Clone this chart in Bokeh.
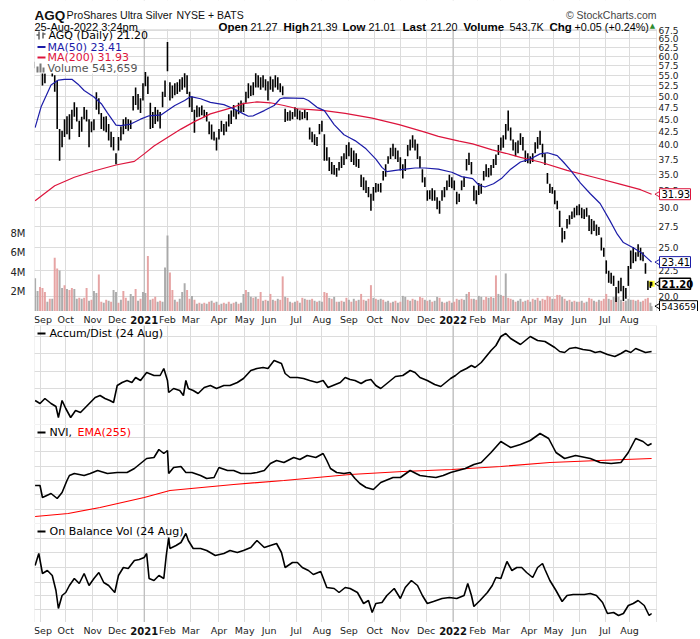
import pandas as pd
from bokeh.plotting import figure
from bokeh.layouts import column
from bokeh.models import (Range1d, LinearAxis, LinearScale, FixedTicker, Label, BoxAnnotation,
                          Span, Grid, CustomJSTickFormatter)
from bokeh.core.properties import value
from bokeh.embed import file_html
from bokeh.resources import INLINE

# ---------------- calendar / axis labels ----------------
holidays = ["2020-09-07", "2020-11-26", "2020-12-25", "2021-01-01", "2021-01-18", "2021-02-15",
            "2021-04-02", "2021-05-31", "2021-07-05", "2021-09-06", "2021-11-25", "2021-12-24",
            "2022-01-17", "2022-02-21", "2022-04-15", "2022-05-30", "2022-06-20", "2022-07-04"]
month_labels = ["Sep", "Oct", "Nov", "Dec", "2021", "Feb", "Mar", "Apr", "May", "Jun", "Jul", "Aug",
                "Sep", "Oct", "Nov", "Dec", "2022", "Feb", "Mar", "Apr", "May", "Jun", "Jul", "Aug"]
price_ticks = [20.0, 22.5, 25.0, 27.5, 30.0, 32.5, 35.0, 37.5, 40.0, 42.5, 45.0, 47.5,
               50.0, 52.5, 55.0, 57.5, 60.0, 62.5, 65.0, 67.5]
vol_ticks = [2e6, 4e6, 6e6, 8e6]

# ---------------- price bars (every 2nd session + last session) ----------------
bar_days = list(range(0, 504, 2)) + [503]
bar_hi = [58.5, 59.5, 58.8, 55.8, 55.5, 58.0, 59.0, 56.5, 55.0, 53.7,
          43.0, 42.7, 45.0, 45.6, 46.0, 47.0, 48.6, 47.5, 44.7, 45.5,
          47.6, 47.0, 45.0, 44.5, 45.0, 50.9, 49.5, 46.3, 45.5, 45.6,
          44.0, 42.5, 41.5, 38.5, 41.5, 43.5, 45.0, 45.4, 45.0, 44.8,
          50.0, 52.0, 50.5, 49.5, 53.0, 55.8, 54.7, 48.5, 46.5, 47.6,
          47.0, 46.5, 51.0, 53.7, 64.0, 53.3, 52.5, 53.0, 53.3, 54.0,
          54.5, 55.5, 55.0, 51.0, 49.9, 47.0, 47.9, 47.5, 47.9, 47.0,
          46.5, 44.5, 43.9, 42.5, 41.4, 43.0, 44.7, 44.0, 44.5, 46.0,
          46.8, 48.0, 47.0, 48.5, 49.0, 48.5, 51.0, 53.0, 52.5, 53.3,
          55.5, 55.0, 54.5, 55.0, 54.0, 53.5, 54.7, 54.0, 55.0, 54.5,
          53.0, 52.3, 47.2, 46.5, 46.8, 46.5, 47.5, 47.2, 46.8, 46.5,
          47.0, 46.5, 43.3, 42.5, 42.0, 41.5, 44.0, 44.7, 42.0, 39.6,
          37.8, 37.0, 36.5, 36.0, 37.0, 38.0, 38.5, 40.0, 40.5, 39.5,
          39.0, 38.5, 37.5, 34.9, 34.5, 34.0, 33.0, 32.0, 33.0, 33.6,
          33.5, 33.6, 35.5, 36.6, 38.0, 39.5, 40.2, 39.5, 39.0, 37.8,
          36.6, 37.5, 40.0, 41.0, 41.8, 41.0, 40.2, 38.0, 35.8, 34.5,
          32.5, 32.5, 32.8, 32.5, 31.5, 31.0, 32.5, 33.0, 34.0, 34.9,
          34.5, 34.0, 32.3, 32.0, 34.0, 34.6, 37.5, 38.6, 37.0, 33.2,
          32.5, 33.6, 33.5, 35.5, 36.6, 36.0, 36.5, 37.5, 38.3, 40.0,
          41.4, 41.8, 44.0, 46.8, 43.3, 41.0, 40.5, 40.8, 42.2, 41.5,
          39.0, 38.5, 38.0, 38.5, 40.5, 41.5, 42.7, 40.2, 38.5, 35.2,
          33.5, 33.0, 32.5, 31.0, 29.6, 27.4, 27.0, 28.5, 29.0, 29.5,
          30.0, 30.3, 30.5, 30.0, 29.8, 30.0, 29.0, 28.5, 28.3, 27.8,
          27.5, 26.2, 25.0, 23.6, 22.5, 22.3, 22.0, 20.9, 21.5, 21.8,
          21.0, 20.8, 23.0, 24.7, 25.1, 24.5, 25.4, 25.0, 24.5, 23.3,
          21.5, 21.4, 21.39]
bar_lo = [56.8, 57.0, 56.6, 52.5, 53.0, 56.3, 56.5, 54.7, 51.0, 43.0,
          37.2, 39.6, 41.5, 42.0, 41.0, 43.0, 45.5, 44.5, 41.5, 42.5,
          45.0, 44.5, 39.6, 42.4, 42.8, 47.0, 46.0, 43.0, 42.7, 42.4,
          40.8, 39.6, 39.0, 36.6, 39.0, 40.8, 42.0, 43.0, 42.7, 43.0,
          46.8, 48.0, 47.0, 46.3, 49.0, 52.3, 50.5, 43.0, 43.2, 44.0,
          44.5, 43.1, 47.5, 49.8, 56.0, 49.0, 49.5, 50.2, 50.5, 51.0,
          51.5, 52.0, 50.5, 47.5, 46.5, 42.3, 45.4, 45.5, 45.8, 45.4,
          44.5, 42.0, 41.0, 40.8, 39.0, 41.0, 42.5, 41.8, 42.5, 43.5,
          44.0, 45.5, 45.0, 46.0, 46.5, 46.5, 48.5, 49.5, 50.0, 50.2,
          52.0, 52.0, 51.5, 52.0, 51.3, 49.0, 51.5, 51.0, 52.0, 51.5,
          50.9, 50.2, 44.4, 44.7, 44.7, 45.0, 45.5, 45.0, 44.8, 45.0,
          45.2, 44.8, 41.0, 40.5, 40.0, 39.8, 42.0, 42.5, 37.2, 37.2,
          35.5, 35.0, 34.9, 34.6, 35.6, 36.0, 36.5, 37.5, 38.0, 37.0,
          36.5, 36.2, 36.0, 33.0, 32.5, 32.1, 31.5, 29.6, 31.0, 32.2,
          32.3, 32.2, 34.0, 34.6, 36.7, 37.5, 38.0, 37.5, 37.0, 35.6,
          34.3, 35.5, 38.0, 39.0, 39.5, 39.0, 37.5, 36.0, 33.7, 33.0,
          31.0, 31.2, 31.0, 31.0, 29.8, 29.2, 31.0, 31.5, 32.5, 33.0,
          32.8, 32.5, 30.5, 30.8, 32.5, 33.0, 35.6, 36.5, 35.0, 31.0,
          30.5, 31.8, 32.0, 34.0, 34.6, 34.5, 34.8, 36.0, 36.5, 38.2,
          39.0, 39.5, 41.0, 42.7, 40.8, 39.0, 38.0, 38.5, 40.0, 39.0,
          37.0, 36.8, 36.7, 37.0, 38.5, 39.3, 40.0, 37.8, 36.5, 33.5,
          32.1, 32.0, 30.5, 29.8, 27.5, 25.6, 26.0, 27.3, 27.8, 28.5,
          28.7, 29.0, 29.0, 28.6, 28.5, 28.8, 27.0, 26.6, 27.0, 26.4,
          26.5, 24.7, 24.0, 22.2, 21.3, 21.2, 21.0, 19.5, 20.3, 20.5,
          19.6, 19.8, 21.0, 22.7, 23.3, 23.5, 24.0, 23.6, 23.5, 22.2,
          20.6, 20.8, 21.01]
last_day = 503
last_close = 21.20

# ---------------- volume (millions, same sessions as the bars) ----------------
vol_m = [3.4, 2.1, 2.5, 2.4, 2.0, 1.0, 1.3, 1.3, 5.5, 4.4,
         4.2, 2.4, 2.7, 2.3, 2.2, 2.4, 2.3, 1.3, 1.4, 1.3,
         1.4, 2.4, 1.1, 1.2, 2.1, 1.9, 3.8, 1.0, 0.9, 1.2,
         1.1, 1.0, 2.2, 2.0, 0.9, 1.2, 2.1, 1.4, 1.1, 1.8,
         1.6, 2.3, 1.1, 1.3, 2.0, 1.9, 5.7, 1.2, 1.3, 1.5,
         1.0, 1.1, 1.0, 4.5, 7.8, 4.0, 2.2, 1.2, 1.0, 1.3,
         2.0, 2.9, 2.2, 1.3, 1.6, 1.2, 0.8, 0.9, 0.8, 0.9,
         0.8, 1.0, 1.1, 0.9, 1.0, 0.7, 0.8, 0.9, 0.8, 1.0,
         0.8, 0.9, 1.0, 0.8, 0.9, 1.8, 2.2, 2.0, 1.5, 1.4,
         1.5, 1.3, 2.0, 1.1, 1.2, 1.1, 1.8, 1.2, 1.1, 1.3,
         1.2, 3.6, 1.5, 1.4, 1.0, 0.9, 1.0, 1.1, 0.9, 1.4,
         1.3, 1.2, 1.2, 1.3, 1.1, 1.0, 1.1, 1.0, 2.0, 1.9,
         1.4, 1.3, 1.5, 1.0, 1.0, 1.1, 1.0, 1.4, 1.2, 1.0,
         1.3, 1.1, 1.2, 1.8, 1.2, 1.1, 1.3, 2.7, 1.4, 1.3,
         1.2, 1.3, 1.2, 1.0, 1.1, 0.9, 1.0, 1.1, 0.9, 1.0,
         1.6, 1.5, 1.2, 1.1, 1.3, 1.2, 1.1, 1.5, 1.4, 1.2,
         1.1, 1.2, 1.0, 1.1, 1.5, 1.4, 1.0, 0.9, 1.0, 1.1,
         0.9, 1.0, 1.3, 1.2, 1.3, 1.2, 1.8, 2.0, 1.3, 1.3,
         1.2, 1.6, 1.5, 1.2, 1.5, 1.4, 1.5, 1.4, 3.7, 1.8,
         1.7, 1.6, 3.9, 1.4, 1.3, 1.2, 1.0, 1.1, 1.3, 1.0,
         1.1, 1.2, 1.0, 1.3, 1.2, 1.4, 1.1, 1.3, 1.2, 1.6,
         1.5, 1.3, 1.3, 1.7, 1.7, 1.5, 1.3, 1.1, 1.2, 1.0,
         1.1, 1.0, 1.0, 1.1, 0.9, 1.0, 1.4, 1.3, 1.1, 1.0,
         1.2, 1.1, 1.3, 1.8, 1.3, 1.2, 1.5, 1.4, 1.5, 1.2,
         1.0, 1.1, 1.3, 1.2, 1.2, 1.1, 1.2, 1.0, 1.1, 1.3,
         1.4, 0.9, 0.543659]
vol_dir = ("ggpppgpgpp" "ggpgppggpg" "ppgpggppgp" "gpggpgppgg" "gpgpggpgpp"
           "gpgggppgpg" "ggppgpgpgp" "gpgpgpgpgp" "gpgpggpggp" "gppgpgpgpg"
           "ppgpgpgpgp" "gpgpgpggpp" "gpgpgpgpgp" "gpgppgppgp" "ggpggpgpgp"
           "ggpgpgpppg" "pgpggpgpgp" "gppgpggppg" "pggppgpgpg" "gpgppgpggp"
           "gpgpgpgppp" "pgpppgpgpg" "pgpgpgppgp" "gpppgpgpgg" "pgggpgpgpp" "pg" "g")
last_volume = 543659

# ---------------- moving averages ----------------
ma50_days = [0, 5, 13, 19, 24, 30, 35, 40, 48, 54, 59, 66, 70, 78, 86, 93, 103, 108, 114, 122,
             127, 135, 143, 154, 162, 170, 174, 178, 187, 195, 200, 203, 219, 223, 230, 236, 244,
             252, 257, 261, 270, 278, 283, 287, 294, 302, 310, 318, 329, 340, 348, 357, 362, 367,
             374, 381, 384, 388, 396, 404, 412, 418, 426, 431, 437, 445, 453, 461, 469, 475, 480,
             488, 494, 499, 503]
ma50_vals = [43.3, 47.7, 52.6, 53.8, 54.0, 54.0, 52.8, 51.3, 49.8, 48.3, 46.3, 43.8, 43.7, 44.0,
             45.0, 45.7, 45.9, 46.8, 47.9, 49.0, 49.9, 49.4, 48.6, 48.1, 47.2, 46.1, 45.6, 45.7,
             46.8, 47.9, 49.4, 49.6, 49.5, 49.0, 47.5, 46.8, 43.9, 41.9, 41.3, 40.8, 39.3, 37.5,
             36.1, 35.4, 35.6, 35.8, 36.0, 36.0, 35.8, 35.3, 34.6, 34.3, 33.3, 33.0, 33.5, 34.4,
             35.0, 35.8, 37.0, 37.5, 38.4, 38.6, 38.1, 37.0, 35.6, 33.6, 32.0, 30.6, 28.3, 26.6,
             25.6, 25.0, 24.5, 23.9, 23.41]
ma200_days = [0, 16, 32, 48, 66, 81, 89, 97, 108, 119, 130, 143, 160, 170, 181, 192, 203, 214,
              225, 236, 253, 275, 297, 318, 329, 346, 357, 373, 384, 396, 412, 434, 456, 478,
              494, 503]
ma200_vals = [31.0, 33.2, 34.5, 35.5, 36.5, 37.1, 38.4, 39.8, 41.4, 43.0, 44.5, 46.1, 47.4, 48.3,
              48.7, 48.5, 47.9, 47.2, 47.0, 46.8, 46.2, 45.2, 43.9, 42.4, 41.6, 40.7, 40.2, 39.1,
              38.5, 37.8, 37.0, 35.6, 34.5, 33.4, 32.6, 31.93]
ma50_last = 23.41
ma200_last = 31.93

# ---------------- indicator panels (relative panel units) ----------------
ad_days = [0, 4, 8, 13, 17, 19, 22, 25, 29, 33, 37, 41, 45, 49, 53, 57, 61, 64, 67, 71,
           75, 79, 82, 86, 91, 97, 102, 105, 108, 109, 113, 118, 121, 123, 125, 129, 133, 138, 143, 148,
           154, 159, 165, 170, 176, 181, 186, 190, 195, 199, 201, 204, 208, 214, 219, 224, 230, 235, 239, 243,
           249, 253, 257, 261, 266, 270, 274, 278, 282, 288, 294, 300, 306, 310, 314, 320, 326, 331, 336, 339,
           343, 347, 352, 356, 359, 364, 368, 372, 376, 380, 384, 388, 392, 396, 400, 404, 410, 416, 420, 424,
           428, 432, 436, 441, 447, 453, 457, 461, 467, 473, 478, 482, 486, 490, 494, 498, 503]
ad_vals = [24, 21, 26, 21, 18, 7, 24, 16, 7, 14, 12, 17, 22, 27, 29, 26, 24, 22, 39, 42,
           44, 42, 47, 44, 52, 49, 49, 56, 44, 32, 36, 34, 29, 44, 36, 34, 31, 37, 39, 36,
           39, 39, 42, 46, 54, 56, 57, 56, 64, 62, 61, 51, 47, 47, 46, 44, 42, 44, 37, 39,
           42, 47, 45, 44, 41, 44, 45, 39, 36, 42, 48, 49, 54, 52, 47, 44, 40, 38, 43, 46,
           49, 53, 56, 59, 57, 62, 68, 74, 79, 88, 91, 86, 83, 80, 84, 88, 84, 83, 80, 77,
           73, 72, 76, 77, 75, 74, 72, 73, 70, 68, 71, 74, 72, 76, 74, 72, 73]
nvi_days = [0, 4, 6, 13, 18, 22, 26, 28, 32, 40, 45, 51, 59, 67, 75, 81, 86, 91, 97, 101,
            105, 108, 109, 113, 119, 123, 128, 135, 140, 146, 150, 157, 162, 168, 176, 181, 187, 192, 197, 203,
            211, 216, 222, 229, 235, 238, 241, 246, 252, 257, 261, 265, 270, 276, 282, 286, 292, 298, 306, 314,
            320, 327, 333, 339, 345, 351, 358, 364, 372, 380, 388, 396, 404, 412, 419, 425, 432, 441, 453, 461,
            470, 478, 484, 490, 496, 500, 503]
nvi_vals = [38, 38, 26, 30, 25, 31, 43, 48, 50, 48, 50, 53, 50, 51, 51, 55, 60, 65, 66, 74,
            70, 73, 50, 56, 57, 51, 51, 48, 45, 46, 56, 53, 53, 50, 50, 51, 53, 60, 63, 61,
            66, 64, 68, 66, 70, 63, 55, 51, 50, 51, 45, 40, 36, 34, 41, 43, 46, 46, 53, 48,
            47, 46, 48, 51, 53, 55, 59, 61, 71, 82, 76, 79, 83, 90, 85, 71, 65, 68, 65, 61,
            60, 61, 71, 85, 82, 78, 80]
ema_days = [0, 27, 53, 89, 110, 162, 203, 257, 300, 340, 380, 420, 460, 503]
ema_vals = [7, 10, 16, 26, 33, 39, 43, 49, 52, 54, 57, 61, 63, 65]
obv_days = [0, 3, 6, 10, 14, 17, 19, 22, 25, 28, 32, 36, 40, 44, 48, 52, 56, 60, 65, 68,
            72, 76, 81, 85, 89, 91, 93, 97, 101, 105, 107, 109, 110, 115, 119, 123, 125, 129, 135, 140,
            147, 154, 159, 165, 170, 176, 181, 187, 192, 197, 201, 204, 210, 214, 218, 223, 227, 233, 238, 244,
            248, 253, 257, 263, 268, 272, 275, 278, 283, 287, 293, 298, 302, 307, 312, 316, 320, 325, 332, 338,
            344, 350, 353, 356, 358, 363, 369, 373, 376, 380, 382, 385, 389, 393, 397, 401, 406, 410, 414, 416,
            420, 425, 430, 434, 439, 448, 453, 458, 463, 467, 472, 476, 480, 484, 488, 492, 497, 501, 503]
obv_vals = [57, 69, 49, 52, 47, 32, 14, 27, 30, 37, 44, 39, 49, 37, 44, 50, 40, 37, 30, 47,
            55, 54, 62, 63, 65, 69, 44, 42, 47, 44, 67, 85, 74, 77, 80, 89, 82, 74, 74, 72,
            67, 69, 72, 70, 72, 75, 82, 75, 77, 79, 70, 55, 60, 60, 55, 52, 48, 51, 35, 34,
            30, 35, 34, 30, 19, 22, 10, 19, 20, 27, 34, 24, 35, 42, 37, 27, 19, 21, 24, 25,
            24, 27, 39, 27, 16, 22, 30, 37, 45, 44, 51, 61, 52, 55, 55, 50, 45, 55, 59, 53,
            42, 32, 21, 27, 28, 28, 29, 27, 20, 9, 10, 7, 9, 17, 19, 22, 17, 7, 9]
ad_grid = [18, 36, 53, 71, 88]
nvi_grid = [14, 29, 43, 57, 72, 86]
obv_grid = [13, 27, 40, 55, 70, 84]

# ---------------- derived axis positions ----------------
dates = pd.bdate_range("2020-08-26", "2022-08-25", freq="C", holidays=holidays)
N = len(dates)
month_starts = [int(i) for i in range(1, N) if dates[i].month != dates[i - 1].month]
year_pos = [p for p, l in zip(month_starts, month_labels) if l.isdigit()]
year_txt = [l for l in month_labels if l.isdigit()]
mon_pos = [p for p, l in zip(month_starts, month_labels) if not l.isdigit()]
mon_txt = [l for l in month_labels if not l.isdigit()]

GRID = "#dcdcdc"
YEARGRID = "#b4b4b4"
OUTLINE = "#a8a8a8"
BLUE = "#1c1ca8"
CRIMSON = "#dc143c"
LEFT, FW, RIGHT = 34, 622, 44          # left border, panel width, right scale strip (px)
WIDE = FW + RIGHT                       # every frame runs to the right page edge
X0, X1 = -0.5, 507.0                    # session range shown inside the panels
PX = (X1 - X0) / FW                     # sessions per pixel
xr = Range1d(X0, X1 + RIGHT * PX)
FH, TOPPAD = 282, 29                    # price panel height, header space above it
P_LO, P_HI = 18.68, 67.8
P_TOP = P_HI * (P_HI / P_LO) ** (TOPPAD / FH)
VOL_HI = 28.9e6


def gtext(fig, xs, ys, texts, size, font="DejaVu Sans", bold=False, color="#000000",
          align="left", baseline="alphabetic", **kw):
    fig.text(x=xs, y=ys, text=texts, text_font=value(font), text_font_size=size,
             text_font_style="bold" if bold else "normal", text_color=color,
             text_align=align, text_baseline=baseline, **kw)


def slabel(fig, x, y, text, size="11px", color="#000000", bold=False, align="left",
           baseline="middle", font="DejaVu Sans"):
    fig.add_layout(Label(x=x, y=y, x_units="screen", y_units="screen", text=text,
                         text_font=font, text_font_size=size, text_color=color,
                         text_font_style="bold" if bold else "normal",
                         text_align=align, text_baseline=baseline))


def sbox(fig, l, r, b, t, color):
    fig.add_layout(BoxAnnotation(left=l, right=r, bottom=b, top=t, left_units="screen",
                                 right_units="screen", bottom_units="screen", top_units="screen",
                                 fill_color=color, fill_alpha=1.0, line_color=None))


def base_fig(height, y_range, **kw):
    f = figure(frame_width=WIDE, frame_height=height, x_range=xr, y_range=y_range,
               x_axis_location=None, y_axis_location=None, toolbar_location=None,
               output_backend="svg", min_border_left=LEFT, min_border_right=0,
               min_border_top=0, min_border_bottom=0, outline_line_color=None,
               background_fill_color="white", border_fill_color="white", **kw)
    f.grid.visible = False
    return f


def panel_decor(fig, yticks, y_lo, y_hi, y_cover=None):
    fig.add_layout(Grid(dimension=0, ticker=FixedTicker(ticks=month_starts), grid_line_color=GRID))
    fig.add_layout(Grid(dimension=1, ticker=FixedTicker(ticks=yticks), grid_line_color=GRID))
    for pos in year_pos:
        fig.add_layout(Span(location=pos, dimension="height", line_color=YEARGRID,
                            line_width=1, level="underlay"))
    # blank out the right scale strip (and the header area) behind the grid
    fig.add_layout(BoxAnnotation(left=X1, fill_color="white", fill_alpha=1.0,
                                 line_color=None, level="underlay"))
    if y_cover is not None:
        fig.add_layout(BoxAnnotation(bottom=y_cover, fill_color="white", fill_alpha=1.0,
                                     line_color=None, level="underlay"))
    fig.add_layout(BoxAnnotation(left=X0, right=X1, bottom=y_lo, top=y_hi, fill_color=None,
                                 line_color=OUTLINE, line_width=1, level="overlay"))


# ---------------- main price panel (with header and right scale) ----------------
main = base_fig(FH + TOPPAD, Range1d(P_LO, P_TOP), y_axis_type="log")
main.extra_y_ranges = {"vol": Range1d(0, VOL_HI * (FH + TOPPAD) / FH)}
main.extra_y_scales = {"vol": LinearScale()}
panel_decor(main, price_ticks, P_LO, P_HI, y_cover=P_HI)

vax = LinearAxis(y_range_name="vol", ticker=FixedTicker(ticks=vol_ticks),
                 formatter=CustomJSTickFormatter(code="return (tick/1e6).toFixed(0) + 'M';"))
vax.axis_line_color = None
vax.major_tick_line_color = None
vax.minor_tick_line_color = None
vax.major_label_text_font = "DejaVu Sans"
vax.major_label_text_font_size = "10px"
vax.major_label_text_color = "#222222"
vax.major_label_standoff = 3
main.add_layout(vax, "left")

vol_vals = [v * 1e6 for v in vol_m]
vol_cols = ["#e39a9a" if c == "p" else "#a3a3a3" for c in vol_dir]
main.vbar(x=bar_days, top=vol_vals, bottom=0, width=1.6, fill_color=vol_cols,
          line_color=None, fill_alpha=0.9, y_range_name="vol")
main.scatter(x=[last_day], y=[last_close], marker="square", size=6,
             fill_color="#ffff33", line_color=None)
main.vbar(x=bar_days, top=bar_hi, bottom=bar_lo, width=1.3, fill_color="black", line_color=None)
main.line(ma200_days, ma200_vals, line_color=CRIMSON, line_width=1.2)
main.line(ma50_days, ma50_vals, line_color=BLUE, line_width=1.2)

# legend box (top-left of the price panel)
sbox(main, 0, 84, FH - 44, FH, "white")
sbox(main, 4, 5, FH - 10, FH - 2, "#111111")
sbox(main, 2, 4, FH - 6, FH - 5, "#111111")
sbox(main, 8, 9, FH - 9, FH - 3, "#111111")
sbox(main, 9, 11, FH - 5, FH - 4, "#111111")
slabel(main, 14, FH - 6, "AGQ (Daily) 21.20")
sbox(main, 3, 11, FH - 18.5, FH - 16.5, BLUE)
slabel(main, 13, FH - 17.5, "MA(50) 23.41", color=BLUE)
sbox(main, 3, 11, FH - 29, FH - 27, CRIMSON)
slabel(main, 13, FH - 28, "MA(200) 31.93", color=CRIMSON)
sbox(main, 2, 4, FH - 43, FH - 37, "#777777")
sbox(main, 5, 7, FH - 43, FH - 34, "#777777")
sbox(main, 8, 10, FH - 43, FH - 38, "#777777")
slabel(main, 13, FH - 38.5, "Volume 543,659", color="#555555")

# header (two text lines above the panel)
HF = "Liberation Sans"
H1, H2 = FH + TOPPAD - 14.5, FH + TOPPAD - 26
slabel(main, 0, H1, "AGQ", size="13.5px", bold=True, color="#111111", baseline="alphabetic", font=HF)
slabel(main, 32, H1, "ProShares Ultra Silver", size="10.7px", color="#111111",
       baseline="alphabetic", font=HF)
slabel(main, 142, H1, "NYSE + BATS", size="10.5px", color="#111111", baseline="alphabetic", font=HF)
slabel(main, FW, H1 + 0.5, "\u00a9 StockCharts.com", size="10.5px", color="#444444",
       align="right", baseline="alphabetic", font=HF)
slabel(main, 0, H2, "25-Aug-2022 3:24pm", size="11px", baseline="alphabetic", font=HF)
for x, txt in [(184, "Open"), (249, "High"), (308, "Low"), (368, "Last"), (429, "Volume"),
               (515, "Chg")]:
    slabel(main, x, H2, txt, size="11.5px", bold=True, baseline="alphabetic", font=HF)
for x, txt in [(216, "21.27"), (276, "21.39"), (334, "21.01"), (396, "21.20"), (475, "543.7K"),
               (540, "+0.05 (+0.24%)")]:
    slabel(main, x, H2, txt, size="10.8px", baseline="alphabetic", font=HF)
slabel(main, 618, H2 + 1, "\u25b2", size="7px", color="#2e8b2e", align="center",
       baseline="alphabetic")

# right price scale + value callouts
gtext(main, [X1 + 2 * PX] * len(price_ticks), price_ticks, ["%.1f" % t for t in price_ticks],
      "9px", color="#222222", baseline="middle")
for val, txt, col, bold, rng in [(ma200_last, "31.93", CRIMSON, False, "default"),
                                 (ma50_last, "23.41", BLUE, False, "default"),
                                 (last_close, "21.20", "#000000", True, "default"),
                                 (last_volume, str(last_volume), "#000000", False, "vol")]:
    w = 38 if rng == "vol" else 31
    main.scatter(x=[X1 + 2.5 * PX], y=[val], marker="triangle", angle=1.5708, size=7,
                 fill_color="white", line_color=col, y_range_name=rng)
    main.rect(x=[X1 + (3 + w / 2.0) * PX], y=[val], width=w, width_units="screen",
              height=11, height_units="screen", fill_color="white", line_color=col,
              line_width=1.5 if bold else 1, y_range_name=rng)
    main.text(x=[X1 + 5 * PX], y=[val], text=[txt], text_font=value("DejaVu Sans"),
              text_font_size="9px" if rng == "vol" else "10px",
              text_font_style="bold" if bold else "normal",
              text_baseline="middle", y_range_name=rng)


# ---------------- x label strips ----------------
def xlabels(height, ymid):
    f = base_fig(height, Range1d(0, height))
    gtext(f, mon_pos[:1], [ymid], mon_txt[:1], "9.5px", color="#222222",
          align="center", baseline="middle", x_offset=3)
    gtext(f, mon_pos[1:], [ymid] * (len(mon_pos) - 1), mon_txt[1:], "9.5px", color="#222222",
          align="center", baseline="middle")
    gtext(f, year_pos, [ymid] * len(year_pos), year_txt, "10px", bold=True, color="#111111",
          align="center", baseline="middle")
    return f


lab1 = xlabels(14, 6)
lab2 = xlabels(17, 9)

# ---------------- indicator panels ----------------
PH = 99


def ind_panel(grid_vals):
    f = base_fig(PH, Range1d(0, 99))
    panel_decor(f, grid_vals, 0, 99)
    return f


ad = ind_panel(ad_grid)
ad.line(ad_days, ad_vals, line_color="black", line_width=1.6)
sbox(ad, 3, 11, PH - 9, PH - 7, "#000000")
slabel(ad, 15, PH - 8, "Accum/Dist (24 Aug)")

nvi = ind_panel(nvi_grid)
nvi.line(ema_days, ema_vals, line_color="#ff0000", line_width=1.2)
nvi.line(nvi_days, nvi_vals, line_color="black", line_width=1.6)
sbox(nvi, 3, 11, PH - 9, PH - 7, "#000000")
slabel(nvi, 15, PH - 8, "NVI,")
slabel(nvi, 43, PH - 8, "EMA(255)", color="#ff0000")

obv = ind_panel(obv_grid)
obv.line(obv_days, obv_vals, line_color="black", line_width=1.6)
sbox(obv, 3, 11, PH - 9, PH - 7, "#000000")
slabel(obv, 15, PH - 8, "On Balance Vol (24 Aug)")

layout = column(main, lab1, ad, nvi, obv, lab2)
open("out.html", "w").write(file_html(layout, INLINE, title="AGQ ProShares Ultra Silver"))
